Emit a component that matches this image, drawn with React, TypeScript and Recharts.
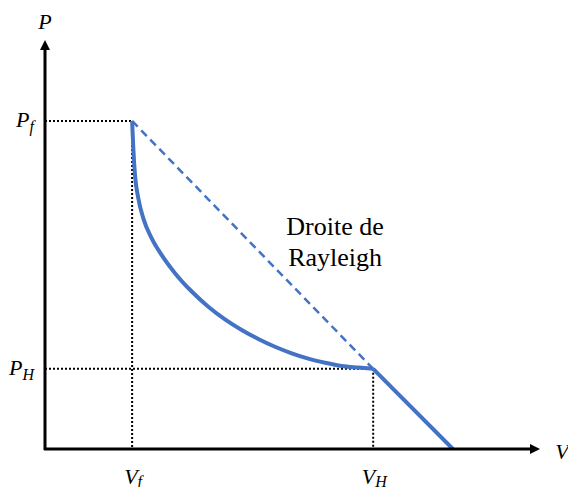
import React from 'react';
import { ComposedChart, Line, XAxis, YAxis, ReferenceLine, ReferenceDot } from 'recharts';

const Vf = 17.6;
const VH = 66.3;
const Pf = 80.2;
const PH = 19.6;
const Vend = 82.4;

const hugoniotV = [17.6, 17.84, 18.18, 18.85, 19.86, 21.56, 23.58, 26.26, 29.64, 32.99, 36.36, 39.74, 43.09, 46.46, 49.84, 53.19, 56.57, 59.94, 63.29, 66.3];
const hugoniotP = [80.2, 73.5, 67.0, 61.3, 56.4, 51.5, 47.4, 43.0, 38.5, 34.8, 31.7, 29.1, 26.9, 25.0, 23.4, 22.1, 21.1, 20.3, 19.9, 19.6];

const rayleighV = [Vf, VH];
const rayleighP = [Pf, PH];

const tailV = [VH, Vend];
const tailP = [PH, 0];

const xTicks = [Vf, VH];
const xTickMain = ['V', 'V'];
const xTickSub = ['f', 'H'];
const yTicks = [PH, Pf];
const yTickMain = ['P', 'P'];
const yTickSub = ['H', 'f'];

const textLines = ['Droite de', 'Rayleigh'];

const zip = (xs: number[], ys: number[]) => xs.map((x, i) => ({ x, y: ys[i] }));
const hugoniot = zip(hugoniotV, hugoniotP);
const rayleigh = zip(rayleighV, rayleighP);
const tail = zip(tailV, tailP);

const BLUE = '#4472C4';
const SERIF = 'Liberation Serif, Times New Roman, DejaVu Serif, serif';

const XTick = (props: any) => {
  const { x, y, payload } = props;
  const i = xTicks.indexOf(payload.value);
  return (
    <text x={x + 1} y={y + 27} textAnchor="middle" fontFamily={SERIF} fontStyle="italic" fontSize={22} fill="#000">
      <tspan>{xTickMain[i]}</tspan>
      <tspan fontSize={16} dy={3}>{xTickSub[i]}</tspan>
    </text>
  );
};

const YTick = (props: any) => {
  const { x, y, payload } = props;
  const i = yTicks.indexOf(payload.value);
  return (
    <text x={x - 3} y={y + 6} textAnchor="end" fontFamily={SERIF} fontStyle="italic" fontSize={22} fill="#000">
      <tspan>{yTickMain[i]}</tspan>
      <tspan fontSize={16} dy={5}>{yTickSub[i]}</tspan>
    </text>
  );
};

const ArrowX = (props: any) => {
  const { x1, y1, x2, y2 } = props;
  return (
    <g>
      <line x1={x1 - 1} y1={y1} x2={x2 - 8} y2={y2} stroke="#000" strokeWidth={3} />
      <polygon points={`${x2},${y2} ${x2 - 10},${y2 - 5} ${x2 - 10},${y2 + 5}`} fill="#000" />
      <text x={x2 + 22} y={y2 + 10} textAnchor="middle" fontFamily={SERIF} fontStyle="italic" fontSize={22} fill="#000">V</text>
    </g>
  );
};

const ArrowY = (props: any) => {
  const { x1, y1, x2, y2 } = props;
  const top = Math.min(y1, y2);
  const bottom = Math.max(y1, y2);
  return (
    <g>
      <line x1={x1} y1={bottom + 1} x2={x2} y2={top + 8} stroke="#000" strokeWidth={3} />
      <polygon points={`${x2},${top} ${x2 - 5},${top + 10} ${x2 + 5},${top + 10}`} fill="#000" />
      <text x={x2} y={top - 11} textAnchor="middle" fontFamily={SERIF} fontStyle="italic" fontSize={22} fill="#000">P</text>
    </g>
  );
};

const RayleighText = (props: any) => {
  const { cx, cy } = props;
  return (
    <text x={cx} y={cy} textAnchor="middle" fontFamily={SERIF} fontSize={26} fill="#000">
      <tspan x={cx} dy={0}>{textLines[0]}</tspan>
      <tspan x={cx} dy={31}>{textLines[1]}</tspan>
    </text>
  );
};

export default function App() {
  return (
    <div style={{ position: 'absolute', left: 0, top: 0, background: '#fff' }}>
      <ComposedChart width={568} height={487} margin={{ top: 40, right: 28, left: 0, bottom: 0 }}>
        <XAxis
          dataKey="x"
          type="number"
          domain={[0, 100]}
          ticks={xTicks}
          axisLine={false}
          tickLine={false}
          height={38}
          tick={<XTick />}
          allowDataOverflow
        />
        <YAxis
          type="number"
          domain={[0, 100]}
          ticks={yTicks}
          axisLine={false}
          tickLine={false}
          width={45}
          tick={<YTick />}
          allowDataOverflow
        />
        <ReferenceLine segment={[{ x: 0, y: Pf }, { x: Vf, y: Pf }]} stroke="#000" strokeWidth={2} strokeDasharray="2 2" />
        <ReferenceLine segment={[{ x: Vf, y: Pf }, { x: Vf, y: 0 }]} stroke="#000" strokeWidth={2} strokeDasharray="2 2" />
        <ReferenceLine segment={[{ x: 0, y: PH }, { x: VH, y: PH }]} stroke="#000" strokeWidth={2} strokeDasharray="2 2" />
        <ReferenceLine segment={[{ x: VH, y: PH }, { x: VH, y: 0 }]} stroke="#000" strokeWidth={2} strokeDasharray="2 2" />
        <Line data={rayleigh} dataKey="y" type="linear" stroke={BLUE} strokeWidth={2.5} strokeDasharray="8 5" dot={false} activeDot={false} isAnimationActive={false} />
        <Line data={hugoniot} dataKey="y" type="monotone" stroke={BLUE} strokeWidth={4} dot={false} activeDot={false} isAnimationActive={false} />
        <Line data={tail} dataKey="y" type="linear" stroke={BLUE} strokeWidth={4} dot={false} activeDot={false} isAnimationActive={false} />
        <ReferenceLine segment={[{ x: 0, y: 0 }, { x: 100, y: 0 }]} shape={<ArrowX />} />
        <ReferenceLine segment={[{ x: 0, y: 0 }, { x: 0, y: 100 }]} shape={<ArrowY />} />
        <ReferenceDot x={58.6} y={52.3} r={0} shape={<RayleighText />} />
      </ComposedChart>
    </div>
  );
}
